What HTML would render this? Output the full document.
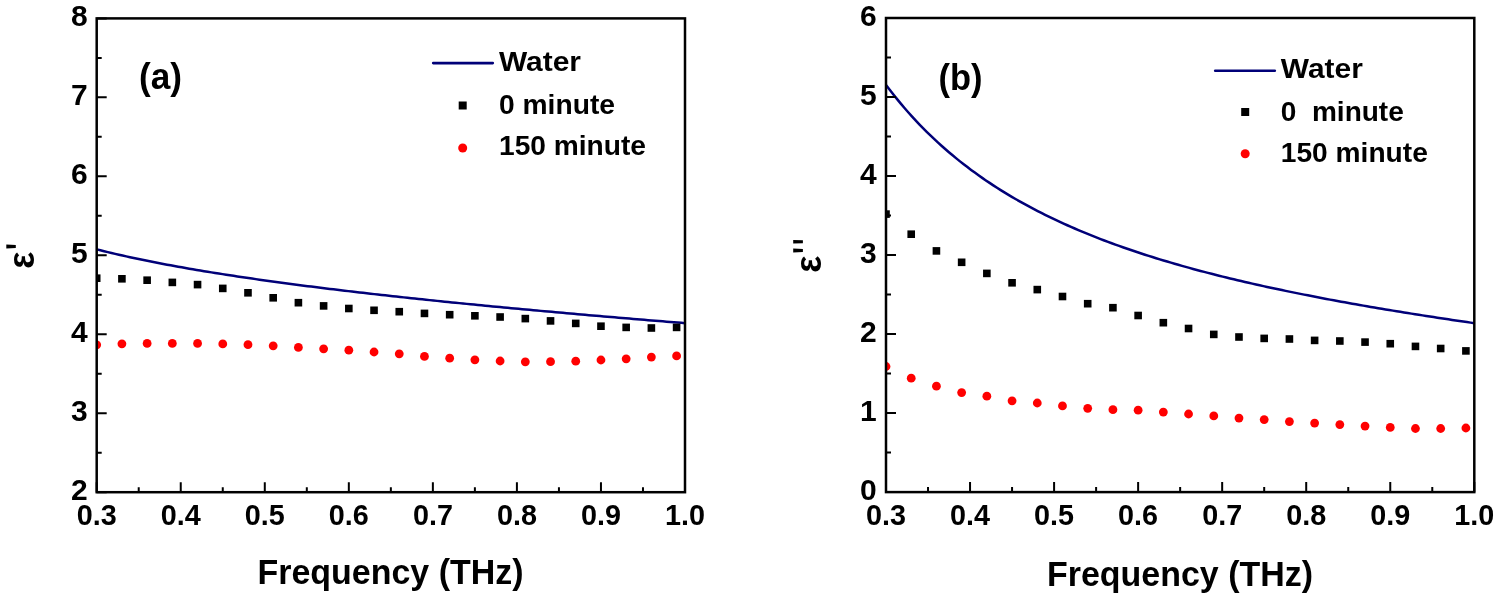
<!DOCTYPE html>
<html><head><meta charset="utf-8"><style>
html,body{margin:0;padding:0;background:#fff;overflow:hidden}
svg{display:block;will-change:transform}
text{font-family:"Liberation Sans", sans-serif;font-weight:bold;fill:#000}
</style></head><body>
<svg width="1499" height="598" viewBox="0 0 1499 598">
<rect width="1499" height="598" fill="#fff"/>
<clipPath id="ca"><rect x="96.7" y="18.4" width="588.3" height="473.8"/></clipPath>
<g clip-path="url(#ca)">
<path d="M96.70,249.38 L100.40,250.32 L104.10,251.23 L107.80,252.13 L111.50,253.01 L115.20,253.87 L118.90,254.73 L122.60,255.56 L126.30,256.39 L130.00,257.20 L133.70,257.99 L137.40,258.78 L141.10,259.55 L144.80,260.31 L148.50,261.06 L152.20,261.80 L155.90,262.53 L159.60,263.24 L163.30,263.95 L167.00,264.65 L170.70,265.34 L174.40,266.02 L178.10,266.69 L181.80,267.35 L185.50,268.01 L189.20,268.65 L192.90,269.29 L196.60,269.92 L200.30,270.55 L204.00,271.16 L207.70,271.77 L211.40,272.37 L215.10,272.97 L218.80,273.56 L222.50,274.14 L226.20,274.72 L229.90,275.29 L233.60,275.86 L237.30,276.42 L241.00,276.97 L244.70,277.52 L248.40,278.06 L252.10,278.60 L255.80,279.13 L259.50,279.66 L263.20,280.19 L266.90,280.71 L270.60,281.22 L274.30,281.73 L278.00,282.24 L281.70,282.74 L285.40,283.23 L289.10,283.73 L292.80,284.22 L296.50,284.70 L300.20,285.18 L303.90,285.66 L307.60,286.14 L311.30,286.61 L315.00,287.07 L318.70,287.54 L322.40,288.00 L326.10,288.45 L329.80,288.91 L333.50,289.36 L337.20,289.80 L340.90,290.25 L344.60,290.69 L348.30,291.13 L352.00,291.56 L355.70,291.99 L359.40,292.42 L363.10,292.85 L366.80,293.28 L370.50,293.70 L374.20,294.12 L377.90,294.53 L381.60,294.95 L385.30,295.36 L389.00,295.77 L392.70,296.17 L396.40,296.58 L400.10,296.98 L403.80,297.38 L407.50,297.78 L411.20,298.17 L414.90,298.57 L418.60,298.96 L422.30,299.35 L426.00,299.73 L429.70,300.12 L433.40,300.50 L437.10,300.88 L440.80,301.26 L444.50,301.64 L448.20,302.01 L451.90,302.39 L455.60,302.76 L459.30,303.13 L463.00,303.50 L466.70,303.87 L470.40,304.23 L474.10,304.59 L477.80,304.95 L481.50,305.31 L485.20,305.67 L488.90,306.03 L492.60,306.39 L496.30,306.74 L500.00,307.09 L503.70,307.44 L507.40,307.79 L511.10,308.14 L514.80,308.48 L518.50,308.83 L522.20,309.17 L525.90,309.52 L529.60,309.86 L533.30,310.20 L537.00,310.53 L540.70,310.87 L544.40,311.21 L548.10,311.54 L551.80,311.87 L555.50,312.20 L559.20,312.54 L562.90,312.86 L566.60,313.19 L570.30,313.52 L574.00,313.85 L577.70,314.17 L581.40,314.49 L585.10,314.82 L588.80,315.14 L592.50,315.46 L596.20,315.78 L599.90,316.09 L603.60,316.41 L607.30,316.73 L611.00,317.04 L614.70,317.35 L618.40,317.67 L622.10,317.98 L625.80,318.29 L629.50,318.60 L633.20,318.91 L636.90,319.22 L640.60,319.52 L644.30,319.83 L648.00,320.13 L651.70,320.44 L655.40,320.74 L659.10,321.04 L662.80,321.35 L666.50,321.65 L670.20,321.95 L673.90,322.24 L677.60,322.54 L681.30,322.84 L685.00,323.14" fill="none" stroke="#000078" stroke-width="2.5"/>
<rect x="92.90" y="274.40" width="7.6" height="7.6" fill="#000"/>
<rect x="118.11" y="275.00" width="7.6" height="7.6" fill="#000"/>
<rect x="143.33" y="276.40" width="7.6" height="7.6" fill="#000"/>
<rect x="168.54" y="278.60" width="7.6" height="7.6" fill="#000"/>
<rect x="193.75" y="280.80" width="7.6" height="7.6" fill="#000"/>
<rect x="218.96" y="284.60" width="7.6" height="7.6" fill="#000"/>
<rect x="244.18" y="289.00" width="7.6" height="7.6" fill="#000"/>
<rect x="269.39" y="294.00" width="7.6" height="7.6" fill="#000"/>
<rect x="294.60" y="298.90" width="7.6" height="7.6" fill="#000"/>
<rect x="319.82" y="302.10" width="7.6" height="7.6" fill="#000"/>
<rect x="345.03" y="304.70" width="7.6" height="7.6" fill="#000"/>
<rect x="370.24" y="306.50" width="7.6" height="7.6" fill="#000"/>
<rect x="395.45" y="307.90" width="7.6" height="7.6" fill="#000"/>
<rect x="420.67" y="309.60" width="7.6" height="7.6" fill="#000"/>
<rect x="445.88" y="310.90" width="7.6" height="7.6" fill="#000"/>
<rect x="471.09" y="312.00" width="7.6" height="7.6" fill="#000"/>
<rect x="496.31" y="313.20" width="7.6" height="7.6" fill="#000"/>
<rect x="521.52" y="314.80" width="7.6" height="7.6" fill="#000"/>
<rect x="546.73" y="317.10" width="7.6" height="7.6" fill="#000"/>
<rect x="571.94" y="319.60" width="7.6" height="7.6" fill="#000"/>
<rect x="597.16" y="322.40" width="7.6" height="7.6" fill="#000"/>
<rect x="622.37" y="323.60" width="7.6" height="7.6" fill="#000"/>
<rect x="647.58" y="324.20" width="7.6" height="7.6" fill="#000"/>
<rect x="672.80" y="323.60" width="7.6" height="7.6" fill="#000"/>
<circle cx="96.70" cy="344.80" r="4.4" fill="#ff0000"/>
<circle cx="121.91" cy="343.80" r="4.4" fill="#ff0000"/>
<circle cx="147.13" cy="343.40" r="4.4" fill="#ff0000"/>
<circle cx="172.34" cy="343.40" r="4.4" fill="#ff0000"/>
<circle cx="197.55" cy="343.40" r="4.4" fill="#ff0000"/>
<circle cx="222.76" cy="343.90" r="4.4" fill="#ff0000"/>
<circle cx="247.98" cy="344.70" r="4.4" fill="#ff0000"/>
<circle cx="273.19" cy="345.80" r="4.4" fill="#ff0000"/>
<circle cx="298.40" cy="347.40" r="4.4" fill="#ff0000"/>
<circle cx="323.62" cy="348.80" r="4.4" fill="#ff0000"/>
<circle cx="348.83" cy="350.20" r="4.4" fill="#ff0000"/>
<circle cx="374.04" cy="352.00" r="4.4" fill="#ff0000"/>
<circle cx="399.25" cy="353.80" r="4.4" fill="#ff0000"/>
<circle cx="424.47" cy="356.40" r="4.4" fill="#ff0000"/>
<circle cx="449.68" cy="358.20" r="4.4" fill="#ff0000"/>
<circle cx="474.89" cy="359.80" r="4.4" fill="#ff0000"/>
<circle cx="500.11" cy="361.00" r="4.4" fill="#ff0000"/>
<circle cx="525.32" cy="361.80" r="4.4" fill="#ff0000"/>
<circle cx="550.53" cy="361.70" r="4.4" fill="#ff0000"/>
<circle cx="575.74" cy="361.20" r="4.4" fill="#ff0000"/>
<circle cx="600.96" cy="360.00" r="4.4" fill="#ff0000"/>
<circle cx="626.17" cy="358.80" r="4.4" fill="#ff0000"/>
<circle cx="651.38" cy="357.10" r="4.4" fill="#ff0000"/>
<circle cx="676.60" cy="355.90" r="4.4" fill="#ff0000"/>
</g>
<path d="M96.70,492.2 V482.2 M138.72,492.2 V487.2 M180.74,492.2 V482.2 M222.76,492.2 V487.2 M264.79,492.2 V482.2 M306.81,492.2 V487.2 M348.83,492.2 V482.2 M390.85,492.2 V487.2 M432.87,492.2 V482.2 M474.89,492.2 V487.2 M516.91,492.2 V482.2 M558.94,492.2 V487.2 M600.96,492.2 V482.2 M642.98,492.2 V487.2 M685.00,492.2 V482.2 M96.7,492.20 H106.7 M96.7,452.72 H101.7 M96.7,413.23 H106.7 M96.7,373.75 H101.7 M96.7,334.27 H106.7 M96.7,294.78 H101.7 M96.7,255.30 H106.7 M96.7,215.82 H101.7 M96.7,176.33 H106.7 M96.7,136.85 H101.7 M96.7,97.37 H106.7 M96.7,57.88 H101.7 M96.7,18.40 H106.7" stroke="#000" stroke-width="2" fill="none"/>
<rect x="96.7" y="18.4" width="588.3" height="473.8" fill="none" stroke="#000" stroke-width="2.5"/>
<text x="87.6" y="500.0" font-size="30" text-anchor="end">2</text>
<text x="87.6" y="421.0" font-size="30" text-anchor="end">3</text>
<text x="87.6" y="342.1" font-size="30" text-anchor="end">4</text>
<text x="87.6" y="263.1" font-size="30" text-anchor="end">5</text>
<text x="87.6" y="184.1" font-size="30" text-anchor="end">6</text>
<text x="87.6" y="105.2" font-size="30" text-anchor="end">7</text>
<text x="87.6" y="26.2" font-size="30" text-anchor="end">8</text>
<text x="96.7" y="525.0" font-size="30" text-anchor="middle" textLength="40.0" lengthAdjust="spacingAndGlyphs">0.3</text>
<text x="180.7" y="525.0" font-size="30" text-anchor="middle" textLength="40.0" lengthAdjust="spacingAndGlyphs">0.4</text>
<text x="264.8" y="525.0" font-size="30" text-anchor="middle" textLength="40.0" lengthAdjust="spacingAndGlyphs">0.5</text>
<text x="348.8" y="525.0" font-size="30" text-anchor="middle" textLength="40.0" lengthAdjust="spacingAndGlyphs">0.6</text>
<text x="432.9" y="525.0" font-size="30" text-anchor="middle" textLength="40.0" lengthAdjust="spacingAndGlyphs">0.7</text>
<text x="516.9" y="525.0" font-size="30" text-anchor="middle" textLength="40.0" lengthAdjust="spacingAndGlyphs">0.8</text>
<text x="601.0" y="525.0" font-size="30" text-anchor="middle" textLength="40.0" lengthAdjust="spacingAndGlyphs">0.9</text>
<text x="685.0" y="525.0" font-size="30" text-anchor="middle" textLength="40.0" lengthAdjust="spacingAndGlyphs">1.0</text>
<clipPath id="cb"><rect x="886.0" y="18.0" width="588.3" height="474.1"/></clipPath>
<g clip-path="url(#cb)">
<path d="M886.00,84.93 L889.70,89.81 L893.40,94.55 L897.10,99.15 L900.80,103.63 L904.50,107.99 L908.20,112.23 L911.90,116.35 L915.60,120.36 L919.30,124.27 L923.00,128.08 L926.70,131.79 L930.40,135.41 L934.10,138.94 L937.80,142.38 L941.50,145.74 L945.20,149.01 L948.90,152.21 L952.60,155.33 L956.30,158.38 L960.00,161.36 L963.70,164.27 L967.40,167.11 L971.10,169.89 L974.80,172.61 L978.50,175.27 L982.20,177.87 L985.90,180.42 L989.60,182.91 L993.30,185.35 L997.00,187.74 L1000.70,190.08 L1004.40,192.37 L1008.10,194.61 L1011.80,196.82 L1015.50,198.97 L1019.20,201.09 L1022.90,203.16 L1026.60,205.20 L1030.30,207.20 L1034.00,209.15 L1037.70,211.08 L1041.40,212.96 L1045.10,214.82 L1048.80,216.64 L1052.50,218.42 L1056.20,220.18 L1059.90,221.90 L1063.60,223.60 L1067.30,225.26 L1071.00,226.90 L1074.70,228.51 L1078.40,230.09 L1082.10,231.65 L1085.80,233.18 L1089.50,234.68 L1093.20,236.17 L1096.90,237.62 L1100.60,239.06 L1104.30,240.47 L1108.00,241.87 L1111.70,243.24 L1115.40,244.59 L1119.10,245.91 L1122.80,247.22 L1126.50,248.51 L1130.20,249.79 L1133.90,251.04 L1137.60,252.28 L1141.30,253.49 L1145.00,254.69 L1148.70,255.88 L1152.40,257.05 L1156.10,258.20 L1159.80,259.34 L1163.50,260.46 L1167.20,261.57 L1170.90,262.66 L1174.60,263.74 L1178.30,264.80 L1182.00,265.85 L1185.70,266.89 L1189.40,267.92 L1193.10,268.93 L1196.80,269.93 L1200.50,270.92 L1204.20,271.90 L1207.90,272.86 L1211.60,273.81 L1215.30,274.76 L1219.00,275.69 L1222.70,276.61 L1226.40,277.52 L1230.10,278.42 L1233.80,279.32 L1237.50,280.20 L1241.20,281.07 L1244.90,281.93 L1248.60,282.79 L1252.30,283.63 L1256.00,284.47 L1259.70,285.29 L1263.40,286.11 L1267.10,286.93 L1270.80,287.73 L1274.50,288.52 L1278.20,289.31 L1281.90,290.09 L1285.60,290.86 L1289.30,291.63 L1293.00,292.39 L1296.70,293.14 L1300.40,293.89 L1304.10,294.62 L1307.80,295.35 L1311.50,296.08 L1315.20,296.80 L1318.90,297.51 L1322.60,298.22 L1326.30,298.92 L1330.00,299.61 L1333.70,300.30 L1337.40,300.99 L1341.10,301.66 L1344.80,302.34 L1348.50,303.00 L1352.20,303.67 L1355.90,304.32 L1359.60,304.98 L1363.30,305.62 L1367.00,306.27 L1370.70,306.90 L1374.40,307.54 L1378.10,308.16 L1381.80,308.79 L1385.50,309.41 L1389.20,310.02 L1392.90,310.64 L1396.60,311.24 L1400.30,311.85 L1404.00,312.44 L1407.70,313.04 L1411.40,313.63 L1415.10,314.22 L1418.80,314.80 L1422.50,315.38 L1426.20,315.96 L1429.90,316.53 L1433.60,317.10 L1437.30,317.67 L1441.00,318.23 L1444.70,318.79 L1448.40,319.35 L1452.10,319.90 L1455.80,320.45 L1459.50,321.00 L1463.20,321.54 L1466.90,322.08 L1470.60,322.62 L1474.30,323.16" fill="none" stroke="#000078" stroke-width="2.5"/>
<rect x="882.20" y="210.30" width="7.6" height="7.6" fill="#000"/>
<rect x="907.41" y="230.40" width="7.6" height="7.6" fill="#000"/>
<rect x="932.63" y="247.10" width="7.6" height="7.6" fill="#000"/>
<rect x="957.84" y="258.50" width="7.6" height="7.6" fill="#000"/>
<rect x="983.05" y="269.60" width="7.6" height="7.6" fill="#000"/>
<rect x="1008.26" y="279.00" width="7.6" height="7.6" fill="#000"/>
<rect x="1033.48" y="285.80" width="7.6" height="7.6" fill="#000"/>
<rect x="1058.69" y="292.70" width="7.6" height="7.6" fill="#000"/>
<rect x="1083.90" y="299.90" width="7.6" height="7.6" fill="#000"/>
<rect x="1109.12" y="303.90" width="7.6" height="7.6" fill="#000"/>
<rect x="1134.33" y="311.70" width="7.6" height="7.6" fill="#000"/>
<rect x="1159.54" y="318.90" width="7.6" height="7.6" fill="#000"/>
<rect x="1184.75" y="324.70" width="7.6" height="7.6" fill="#000"/>
<rect x="1209.97" y="330.60" width="7.6" height="7.6" fill="#000"/>
<rect x="1235.18" y="333.20" width="7.6" height="7.6" fill="#000"/>
<rect x="1260.39" y="334.60" width="7.6" height="7.6" fill="#000"/>
<rect x="1285.61" y="335.20" width="7.6" height="7.6" fill="#000"/>
<rect x="1310.82" y="336.60" width="7.6" height="7.6" fill="#000"/>
<rect x="1336.03" y="337.20" width="7.6" height="7.6" fill="#000"/>
<rect x="1361.24" y="338.30" width="7.6" height="7.6" fill="#000"/>
<rect x="1386.46" y="339.90" width="7.6" height="7.6" fill="#000"/>
<rect x="1411.67" y="342.60" width="7.6" height="7.6" fill="#000"/>
<rect x="1436.88" y="344.70" width="7.6" height="7.6" fill="#000"/>
<rect x="1462.10" y="347.10" width="7.6" height="7.6" fill="#000"/>
<circle cx="886.00" cy="366.50" r="4.4" fill="#ff0000"/>
<circle cx="911.21" cy="378.20" r="4.4" fill="#ff0000"/>
<circle cx="936.43" cy="386.20" r="4.4" fill="#ff0000"/>
<circle cx="961.64" cy="392.60" r="4.4" fill="#ff0000"/>
<circle cx="986.85" cy="396.20" r="4.4" fill="#ff0000"/>
<circle cx="1012.06" cy="400.80" r="4.4" fill="#ff0000"/>
<circle cx="1037.28" cy="403.00" r="4.4" fill="#ff0000"/>
<circle cx="1062.49" cy="405.90" r="4.4" fill="#ff0000"/>
<circle cx="1087.70" cy="408.30" r="4.4" fill="#ff0000"/>
<circle cx="1112.92" cy="409.70" r="4.4" fill="#ff0000"/>
<circle cx="1138.13" cy="410.20" r="4.4" fill="#ff0000"/>
<circle cx="1163.34" cy="412.10" r="4.4" fill="#ff0000"/>
<circle cx="1188.55" cy="414.00" r="4.4" fill="#ff0000"/>
<circle cx="1213.77" cy="415.90" r="4.4" fill="#ff0000"/>
<circle cx="1238.98" cy="418.10" r="4.4" fill="#ff0000"/>
<circle cx="1264.19" cy="419.60" r="4.4" fill="#ff0000"/>
<circle cx="1289.41" cy="421.60" r="4.4" fill="#ff0000"/>
<circle cx="1314.62" cy="423.10" r="4.4" fill="#ff0000"/>
<circle cx="1339.83" cy="424.60" r="4.4" fill="#ff0000"/>
<circle cx="1365.04" cy="426.10" r="4.4" fill="#ff0000"/>
<circle cx="1390.26" cy="427.40" r="4.4" fill="#ff0000"/>
<circle cx="1415.47" cy="428.50" r="4.4" fill="#ff0000"/>
<circle cx="1440.68" cy="428.50" r="4.4" fill="#ff0000"/>
<circle cx="1465.90" cy="428.00" r="4.4" fill="#ff0000"/>
</g>
<path d="M886.00,492.1 V482.1 M928.02,492.1 V487.1 M970.04,492.1 V482.1 M1012.06,492.1 V487.1 M1054.09,492.1 V482.1 M1096.11,492.1 V487.1 M1138.13,492.1 V482.1 M1180.15,492.1 V487.1 M1222.17,492.1 V482.1 M1264.19,492.1 V487.1 M1306.21,492.1 V482.1 M1348.24,492.1 V487.1 M1390.26,492.1 V482.1 M1432.28,492.1 V487.1 M1474.30,492.1 V482.1 M886.0,492.10 H896.0 M886.0,452.59 H891.0 M886.0,413.08 H896.0 M886.0,373.58 H891.0 M886.0,334.07 H896.0 M886.0,294.56 H891.0 M886.0,255.05 H896.0 M886.0,215.54 H891.0 M886.0,176.03 H896.0 M886.0,136.52 H891.0 M886.0,97.02 H896.0 M886.0,57.51 H891.0 M886.0,18.00 H896.0" stroke="#000" stroke-width="2" fill="none"/>
<rect x="886.0" y="18.0" width="588.3" height="474.1" fill="none" stroke="#000" stroke-width="2.5"/>
<text x="876.6" y="499.9" font-size="30" text-anchor="end">0</text>
<text x="876.6" y="420.9" font-size="30" text-anchor="end">1</text>
<text x="876.6" y="341.9" font-size="30" text-anchor="end">2</text>
<text x="876.6" y="262.9" font-size="30" text-anchor="end">3</text>
<text x="876.6" y="183.8" font-size="30" text-anchor="end">4</text>
<text x="876.6" y="104.8" font-size="30" text-anchor="end">5</text>
<text x="876.6" y="25.8" font-size="30" text-anchor="end">6</text>
<text x="886.0" y="525.0" font-size="30" text-anchor="middle" textLength="40.0" lengthAdjust="spacingAndGlyphs">0.3</text>
<text x="970.0" y="525.0" font-size="30" text-anchor="middle" textLength="40.0" lengthAdjust="spacingAndGlyphs">0.4</text>
<text x="1054.1" y="525.0" font-size="30" text-anchor="middle" textLength="40.0" lengthAdjust="spacingAndGlyphs">0.5</text>
<text x="1138.1" y="525.0" font-size="30" text-anchor="middle" textLength="40.0" lengthAdjust="spacingAndGlyphs">0.6</text>
<text x="1222.2" y="525.0" font-size="30" text-anchor="middle" textLength="40.0" lengthAdjust="spacingAndGlyphs">0.7</text>
<text x="1306.2" y="525.0" font-size="30" text-anchor="middle" textLength="40.0" lengthAdjust="spacingAndGlyphs">0.8</text>
<text x="1390.3" y="525.0" font-size="30" text-anchor="middle" textLength="40.0" lengthAdjust="spacingAndGlyphs">0.9</text>
<text x="1474.3" y="525.0" font-size="30" text-anchor="middle" textLength="40.0" lengthAdjust="spacingAndGlyphs">1.0</text>
<text x="139.0" y="89.2" font-size="36" textLength="43.0" lengthAdjust="spacingAndGlyphs">(a)</text>
<text x="938.5" y="89.7" font-size="36" textLength="44.0" lengthAdjust="spacingAndGlyphs">(b)</text>
<line x1="433.2" y1="63.1" x2="492.8" y2="63.1" stroke="#000078" stroke-width="2.6" stroke-linecap="round"/>
<text x="499.0" y="70.8" font-size="27" textLength="82.0" lengthAdjust="spacingAndGlyphs">Water</text>
<rect x="458.7" y="101.5" width="8" height="8" fill="#000"/>
<text x="499.0" y="113.5" font-size="27" textLength="116.0" lengthAdjust="spacingAndGlyphs" xml:space="preserve">0 minute</text>
<circle cx="462.7" cy="148.0" r="4.5" fill="#ff0000"/>
<text x="499.0" y="155.2" font-size="27" textLength="147.0" lengthAdjust="spacingAndGlyphs">150 minute</text>
<line x1="1215.2" y1="70.7" x2="1274.8" y2="70.7" stroke="#000078" stroke-width="2.6" stroke-linecap="round"/>
<text x="1280.8" y="78.0" font-size="27" textLength="82.0" lengthAdjust="spacingAndGlyphs">Water</text>
<rect x="1241.2" y="108.0" width="8" height="8" fill="#000"/>
<text x="1280.8" y="120.7" font-size="27" textLength="123.0" lengthAdjust="spacingAndGlyphs" xml:space="preserve">0  minute</text>
<circle cx="1245.2" cy="153.7" r="4.5" fill="#ff0000"/>
<text x="1280.8" y="162.4" font-size="27" textLength="147.0" lengthAdjust="spacingAndGlyphs">150 minute</text>
<text x="257.5" y="583.9" font-size="35" textLength="266.0" lengthAdjust="spacingAndGlyphs">Frequency (THz)</text>
<text x="1047.0" y="586.0" font-size="35" textLength="266.0" lengthAdjust="spacingAndGlyphs">Frequency (THz)</text>
<text transform="translate(34.2,268.7) rotate(-90)" font-size="36" x="0" y="0">&#949;</text>
<text transform="translate(820.8,272.7) rotate(-90)" font-size="36" x="0" y="0">&#949;</text>
<polygon points="6.3,244.6 15.8,244.9 15.8,248.1 6.3,248.4" fill="#000"/>
<polygon points="793.2,240.0 802.9,240.3 802.9,243.3 793.2,243.60000000000002" fill="#000"/>
<polygon points="793.2,248.6 802.9,248.9 802.9,252.1 793.2,252.4" fill="#000"/>
</svg>
</body></html>
